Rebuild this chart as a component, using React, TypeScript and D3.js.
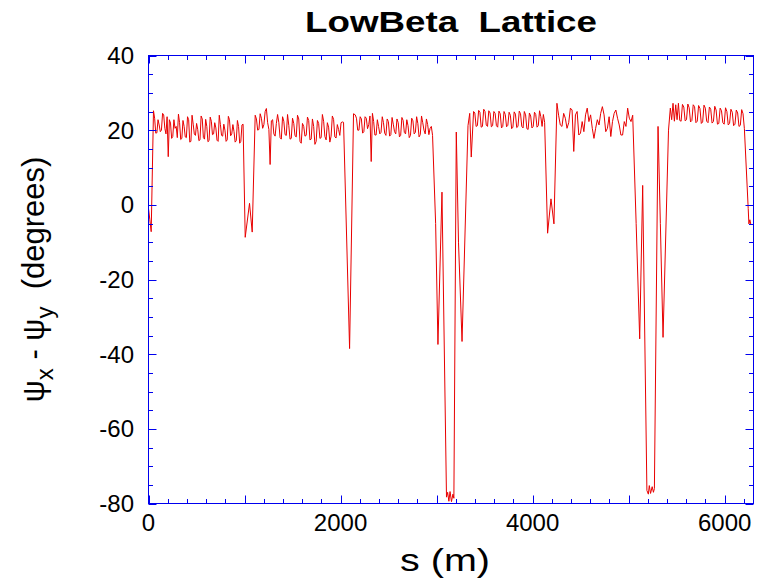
import React from "react";
import * as d3 from "d3";

// ---------- data ----------
const title = "LowBeta  Lattice";
const xTickLabels = [0, 2000, 4000, 6000];
const yTickLabels = [40, 20, 0, -20, -40, -60, -80];
const xDomain = [0, 6300];
const yDomain = [-80, 40];

// explicit transition points [s (m), psi_x - psi_y (deg)]
const startPts = [[0, -1.0], [14, -4.0], [28, -7.2]];
const dip1 = [[1007, -8.7], [1052, 0.4], [1080, -7.3]];
const dip2 = [[2094, -38.5]];
const dip3 = [[2990, -5.0], [3014, -37.4], [3056, 3.4], [3103, -78.3], [3115, -77.0], [3128, -79.4], [3140, -76.8], [3155, -79.5], [3170, -77.5], [3180, -78.6], [3205, 19.5], [3228, -10.0], [3265, -36.6], [3327, 21.2], [3345, 24.5], [3361, 12.8]];
const dip4 = [[4156, -7.6], [4191, 1.6], [4222, -5.1]];
const dip5 = [[5078, -5.0], [5115, -35.9], [5146, 5.2], [5190, -76.5], [5205, -77.5], [5215, -75.2], [5228, -77.3], [5245, -75.5], [5258, -77.0], [5268, -76.0], [5306, 21.0], [5330, -5.0], [5358, -35.5], [5415, 20.0]];
const endPts = [[6245, -1.0], [6252, -5.1], [6262, -4.0], [6272, -5.2]];

// arcs: s-range and equally spaced readings
const arc1Range = [52, 985];
const arc1 = [25.2, 23.2, 19.2, 19.3, 22.8, 21.4, 19.6, 20.0, 24.5, 24.1, 20.5, 19.0, 23.6, 12.9, 22.8, 21.9, 17.8, 18.3, 22.8, 20.5, 21.0, 18.0, 24.3, 22.0, 17.5, 17.8, 22.6, 21.0, 18.2, 18.0, 23.6, 22.8, 16.8, 17.0, 24.0, 21.6, 19.0, 18.6, 21.8, 20.2, 17.2, 17.4, 23.8, 23.0, 18.0, 17.6, 22.9, 21.0, 16.9, 17.2, 23.5, 22.4, 18.8, 19.0, 22.0, 20.6, 17.3, 17.0, 24.0, 21.5, 18.6, 18.4, 21.6, 20.0, 17.0, 17.4, 23.7, 22.8, 18.5, 19.0, 21.5, 19.6, 16.8, 17.2, 22.6, 21.0, 16.5, 17.0, 21.4, 21.6];
const arc2Range = [1111, 2031];
const arc2 = [24.0, 23.0, 20.0, 20.2, 24.4, 23.2, 20.5, 21.5, 25.0, 25.8, 22.0, 20.2, 10.8, 22.5, 22.8, 19.0, 18.4, 21.8, 24.2, 22.0, 18.0, 17.6, 23.6, 22.4, 18.8, 18.6, 24.2, 21.3, 17.6, 17.8, 23.2, 21.8, 18.5, 18.2, 24.0, 23.0, 17.0, 16.5, 21.8, 21.0, 18.4, 18.6, 23.5, 22.6, 17.4, 17.6, 23.0, 21.0, 16.2, 17.0, 22.6, 21.8, 17.8, 18.0, 24.2, 22.4, 18.3, 17.4, 22.0, 20.8, 16.8, 18.4, 23.8, 22.9, 18.2, 17.9, 21.5, 20.2, 18.6, 22.0, 22.2, 22.1];
const arc2b = [[2135, 24.4]];
const arc3Range = [2153, 2958];
const arc3 = [24.1, 23.2, 20.0, 20.0, 23.6, 23.0, 19.2, 19.6, 23.6, 23.2, 20.4, 21.5, 23.8, 11.6, 24.5, 22.3, 18.7, 18.7, 22.8, 21.0, 19.0, 19.4, 23.6, 22.0, 19.2, 18.6, 23.0, 22.3, 18.4, 18.8, 23.4, 21.6, 19.6, 19.0, 23.0, 22.0, 18.2, 18.6, 23.4, 22.6, 19.4, 19.0, 22.8, 21.2, 18.0, 18.6, 23.2, 22.5, 19.0, 19.4, 23.6, 21.8, 18.2, 18.8, 23.8, 22.0, 20.0, 19.0, 23.0, 21.5, 18.8, 20.5, 21.0, 18.6];
const arc4Range = [3385, 4125];
const arc4 = [25.0, 24.6, 21.0, 21.2, 25.3, 24.8, 20.8, 21.0, 25.6, 25.0, 21.4, 21.0, 25.2, 24.6, 20.9, 21.2, 25.0, 24.5, 21.2, 20.8, 25.1, 24.4, 20.6, 21.0, 25.0, 24.2, 20.9, 21.3, 24.8, 24.0, 20.4, 20.8, 24.9, 24.3, 20.7, 21.0, 25.1, 24.4, 21.0, 20.6, 25.0, 24.1, 20.4, 20.2, 24.6, 23.8, 20.6, 21.0, 24.8, 24.2, 20.8, 21.2, 25.2, 23.6, 21.0, 24.2, 22.1];
const arc5Range = [4253, 5042];
const arc5 = [27.2, 24.0, 21.4, 21.0, 24.5, 23.2, 20.5, 22.0, 25.9, 25.4, 14.3, 24.1, 25.0, 18.7, 19.2, 22.3, 19.6, 24.1, 25.9, 22.3, 24.1, 20.5, 17.8, 20.5, 22.8, 21.4, 24.5, 26.3, 24.1, 19.6, 20.5, 23.6, 18.3, 22.3, 24.5, 25.4, 23.2, 21.4, 18.7, 18.7, 22.3, 21.0, 25.9, 23.2, 22.3, 24.0];
const arc6Range = [5434, 6205];
const arc6 = [25.9, 22.8, 27.2, 22.4, 26.8, 22.8, 27.2, 22.6, 22.4, 26.9, 26.2, 22.5, 22.8, 27.0, 26.0, 22.2, 22.6, 26.8, 26.3, 22.0, 22.4, 26.6, 25.8, 21.8, 22.2, 26.7, 25.9, 22.4, 22.0, 26.2, 25.6, 21.9, 22.3, 26.4, 25.4, 21.6, 21.8, 25.9, 25.2, 22.0, 21.6, 26.0, 25.0, 21.4, 21.8, 25.6, 24.8, 21.2, 21.6, 25.4, 24.6, 21.0, 21.3, 25.5, 24.4, 20.4];

// ---------- layout ----------
const W = 758, H = 582;
const L = 148.5, R = 753.5, T = 55.5, B = 503.5;

function arcPoints(range: number[], vals: number[]) {
  const idx = d3.scaleLinear().domain([0, vals.length - 1]).range(range);
  return vals.map((v, i) => [idx(i), v]);
}

export default function App() {
  const x = d3.scaleLinear().domain(xDomain).range([L, R]);
  const y = d3.scaleLinear().domain(yDomain).range([B, T]);

  const pts: number[][] = [
    ...startPts,
    ...arcPoints(arc1Range, arc1),
    ...dip1,
    ...arcPoints(arc2Range, arc2),
    ...dip2,
    ...arc2b,
    ...arcPoints(arc3Range, arc3),
    ...dip3,
    ...arcPoints(arc4Range, arc4),
    ...dip4,
    ...arcPoints(arc5Range, arc5),
    ...dip5,
    ...arcPoints(arc6Range, arc6),
    ...endPts,
  ];
  const line = d3.line<number[]>().x((d) => x(d[0])).y((d) => y(d[1]));

  const xMinor = d3.range(xDomain[0], xDomain[1] + 1, 200);
  const yMinor = d3.range(yDomain[0], yDomain[1] + 1, 5);
  const axisColor = "#0000ee";
  const font = "'Liberation Sans', Arial, Helvetica, sans-serif";

  return (
    <svg width={W} height={H} style={{ position: "absolute", left: 0, top: 0, background: "#fff" }}>
      <rect x={0} y={0} width={W} height={H} fill="#fff" />
      <text x={(L + R) / 2} y={32} textAnchor="middle" fontFamily={font} fontWeight="bold" fontSize={30}
        textLength={292} lengthAdjust="spacingAndGlyphs" style={{ whiteSpace: "pre" }}>
        {title}
      </text>
      <path d={line(pts) || ""} fill="none" stroke="#e80000" strokeWidth={1} strokeLinejoin="round" />
      <rect x={L} y={T} width={R - L} height={B - T} fill="none" stroke={axisColor} strokeWidth={1} />
      {xMinor.map((v) => {
        const len = v % 1000 === 0 ? 8 : 4.5;
        const xx = Math.round(x(v)) + 0.5;
        return (
          <g key={"xt" + v}>
            <line x1={xx} x2={xx} y1={B} y2={B - len} stroke={axisColor} />
            <line x1={xx} x2={xx} y1={T} y2={T + len} stroke={axisColor} />
          </g>
        );
      })}
      {yMinor.map((v) => {
        const len = v % 20 === 0 ? 8 : 4.5;
        const yy = Math.round(y(v)) + 0.5;
        return (
          <g key={"yt" + v}>
            <line x1={L} x2={L + len} y1={yy} y2={yy} stroke={axisColor} />
            <line x1={R} x2={R - len} y1={yy} y2={yy} stroke={axisColor} />
          </g>
        );
      })}
      {xTickLabels.map((v) => (
        <text key={"xl" + v} x={x(v)} y={531} textAnchor="middle" fontFamily={font} fontSize={24}>
          {v}
        </text>
      ))}
      {yTickLabels.map((v) => (
        <text key={"yl" + v} x={134} y={y(v) + 8.5} textAnchor="end" fontFamily={font} fontSize={24}>
          {v}
        </text>
      ))}
      <text x={445} y={571} textAnchor="middle" fontFamily={font} fontSize={31}
        textLength={90} lengthAdjust="spacingAndGlyphs" style={{ whiteSpace: "pre" }}>
        s (m)
      </text>
      <text transform={`translate(44, ${(T + B) / 2}) rotate(-90)`} textAnchor="middle" fontFamily={font} fontSize={31} style={{ whiteSpace: "pre" }}>
        ψ<tspan fontSize={24} dy={9}>x</tspan>
        <tspan dy={-9}> - ψ</tspan>
        <tspan fontSize={24} dy={9}>y</tspan>
        <tspan dy={-9}>{"  (degrees)"}</tspan>
      </text>
    </svg>
  );
}
